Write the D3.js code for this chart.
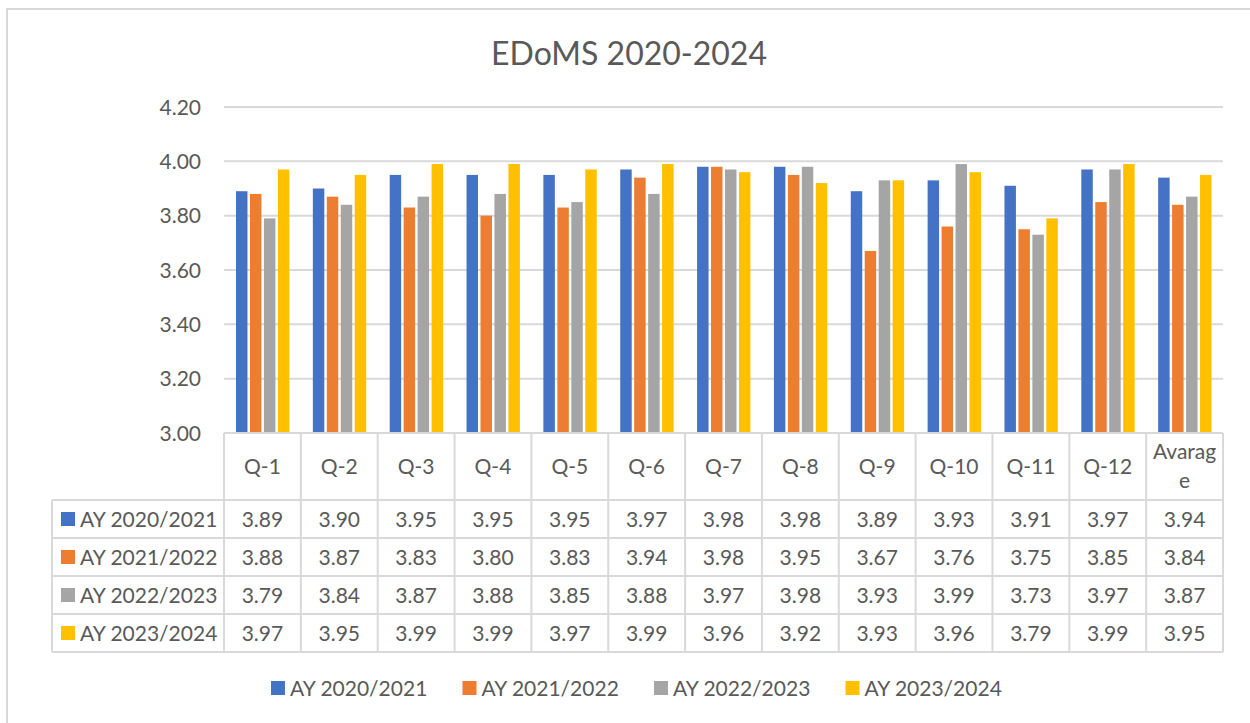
<!DOCTYPE html>
<html>
<head>
<meta charset="utf-8">
<script src="https://cdn.jsdelivr.net/npm/d3@7"></script>
<style>
  body { margin: 0; background: #fff; }
  text { font-family: Lato, "Open Sans", sans-serif; fill: #595959; }
</style>
</head>
<body>
<div id="chart"></div>
<script>
const categories = ["Q-1", "Q-2", "Q-3", "Q-4", "Q-5", "Q-6", "Q-7", "Q-8", "Q-9", "Q-10", "Q-11", "Q-12", "Avarage"];
const seriesNames = ["AY 2020/2021", "AY 2021/2022", "AY 2022/2023", "AY 2023/2024"];
const ay2021 = [3.89, 3.90, 3.95, 3.95, 3.95, 3.97, 3.98, 3.98, 3.89, 3.93, 3.91, 3.97, 3.94];
const ay2122 = [3.88, 3.87, 3.83, 3.80, 3.83, 3.94, 3.98, 3.95, 3.67, 3.76, 3.75, 3.85, 3.84];
const ay2223 = [3.79, 3.84, 3.87, 3.88, 3.85, 3.88, 3.97, 3.98, 3.93, 3.99, 3.73, 3.97, 3.87];
const ay2324 = [3.97, 3.95, 3.99, 3.99, 3.97, 3.99, 3.96, 3.92, 3.93, 3.96, 3.79, 3.99, 3.95];
const yTicks = [3.00, 3.20, 3.40, 3.60, 3.80, 4.00, 4.20];
const colors = ["#4472C4", "#ED7D31", "#A5A5A5", "#FFC000"];

const values = [ay2021, ay2122, ay2223, ay2324];

var W = 1250, H = 723;
var plotLeft = 224, plotRight = 1223, plotTop = 107, plotBottom = 433;
var headH = 67, rowH = 38, labelLeft = 52;
var grid = "#d9d9d9";

const svg = d3.select("#chart").append("svg")
    .attr("width", W)
    .attr("height", H);

// outer chart border (only top and left are in view)
svg.append("rect")
   .attr("x", 7).attr("y", 9)
   .attr("width", 1300).attr("height", 800)
   .attr("fill", "#fff")
   .attr("stroke", grid).attr("stroke-width", 2);

svg.append("text")
   .attr("x", 629).attr("y", 65)
   .attr("text-anchor", "middle")
   .style("font-size", "32px")
   .text("EDoMS 2020-2024");

const x = d3.scaleBand()
    .domain(categories)
    .range([plotLeft, plotRight]);

const xSub = d3.scaleBand()
    .domain(seriesNames)
    .range([12, x.bandwidth() - 9]);

const y = d3.scaleLinear()
    .domain([3, 4.2])
    .range([plotBottom, plotTop]);

// gridlines
svg.append("g")
   .selectAll("line")
   .data(yTicks.slice(1))
   .enter()
   .append("line")
   .attr("x1", plotLeft).attr("x2", plotRight)
   .attr("y1", d => y(d)).attr("y2", d => y(d))
   .attr("stroke", grid).attr("stroke-width", 2);

// y axis labels
svg.append("g")
   .selectAll("text")
   .data(yTicks)
   .enter()
   .append("text")
   .attr("x", 201)
   .attr("y", d => y(d))
   .attr("dy", "0.36em")
   .attr("text-anchor", "end")
   .style("font-size", "21px")
   .text(d => d3.format(".2f")(d));

// bars
const groups = svg.append("g")
   .selectAll("g")
   .data(seriesNames)
   .enter()
   .append("g")
   .attr("fill", (d, i) => colors[i]);

groups.selectAll("rect")
   .data((s, i) => values[i].map((v, j) => ({s: s, cat: categories[j], v: v})))
   .enter()
   .append("rect")
   .attr("x", d => x(d.cat) + xSub(d.s))
   .attr("y", d => y(d.v))
   .attr("width", xSub.bandwidth() - 2.5)
   .attr("height", d => y(3) - y(d.v));

// data table
const table = svg.append("g");
var tBottom = plotBottom + headH + rowH * seriesNames.length;

table.append("line")
   .attr("x1", plotLeft).attr("x2", plotRight)
   .attr("y1", plotBottom).attr("y2", plotBottom)
   .attr("stroke", grid).attr("stroke-width", 2);

for (let r = 0; r <= seriesNames.length; r++) {
  let yy = plotBottom + headH + rowH * r;
  table.append("line")
     .attr("x1", labelLeft).attr("x2", plotRight)
     .attr("y1", yy).attr("y2", yy)
     .attr("stroke", grid).attr("stroke-width", 2);
}

table.append("line")
   .attr("x1", labelLeft).attr("x2", labelLeft)
   .attr("y1", plotBottom + headH).attr("y2", tBottom)
   .attr("stroke", grid).attr("stroke-width", 2);

table.selectAll("line.col")
   .data(categories.concat(["end"]))
   .enter()
   .append("line")
   .attr("class", "col")
   .attr("x1", (d, i) => plotLeft + i * x.bandwidth())
   .attr("x2", (d, i) => plotLeft + i * x.bandwidth())
   .attr("y1", plotBottom).attr("y2", tBottom)
   .attr("stroke", grid).attr("stroke-width", 2);

// header labels
table.selectAll("text.head")
   .data(categories)
   .enter()
   .append("text")
   .attr("class", "head")
   .attr("x", d => x(d) + x.bandwidth() / 2)
   .attr("y", plotBottom + headH / 2)
   .attr("text-anchor", "middle")
   .style("font-size", "21px")
   .each(function(d) {
     const t = d3.select(this);
     if (d.length > 6) {
       t.append("tspan").attr("x", x(d) + x.bandwidth() / 2).attr("dy", "-0.35em").text(d.slice(0, 6));
       t.append("tspan").attr("x", x(d) + x.bandwidth() / 2).attr("dy", "1.35em").text(d.slice(6));
     } else {
       t.attr("dy", "0.36em").text(d);
     }
   });

// rows
seriesNames.forEach((s, i) => {
  let cy = plotBottom + headH + rowH * i + rowH / 2;
  table.append("rect")
     .attr("x", 61).attr("y", cy - 7)
     .attr("width", 14).attr("height", 14)
     .attr("fill", colors[i]);
  table.append("text")
     .attr("x", 80).attr("y", cy).attr("dy", "0.36em")
     .style("font-size", "21px")
     .text(s);
  table.selectAll("text.v" + i)
     .data(values[i])
     .enter()
     .append("text")
     .attr("class", "v" + i)
     .attr("x", (d, j) => x(categories[j]) + x.bandwidth() / 2)
     .attr("y", cy).attr("dy", "0.36em")
     .attr("text-anchor", "middle")
     .style("font-size", "21px")
     .text(d => d3.format(".2f")(d));
});

// legend
const legend = svg.append("g")
   .selectAll("g")
   .data(seriesNames)
   .enter()
   .append("g")
   .attr("transform", (d, i) => "translate(" + (271 + i * 191.5) + ", 688)");

legend.append("rect")
   .attr("x", 0).attr("y", -7)
   .attr("width", 14).attr("height", 14)
   .attr("fill", (d, i) => colors[i]);

legend.append("text")
   .attr("x", 19).attr("dy", "0.36em")
   .style("font-size", "21px")
   .text(d => d);
</script>
</body>
</html>
